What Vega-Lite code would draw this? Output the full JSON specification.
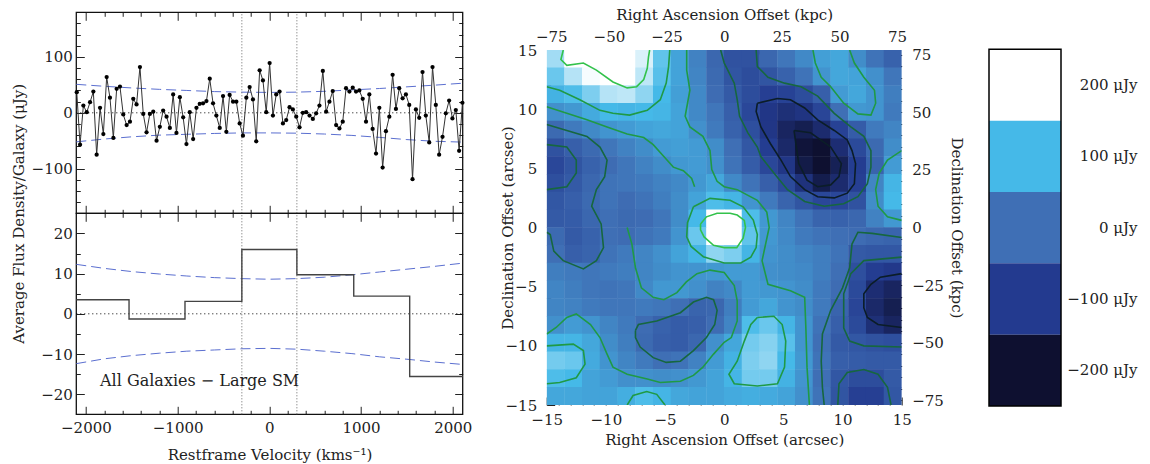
{
"$schema": "https://vega.github.io/schema/vega-lite/v6.json",
"background": "white",
"autosize": {"type": "none"},
"padding": {"left": 546.7, "top": 50, "right": 248.3, "bottom": 59},
"width": 355, "height": 355,
"config": {"font": "DejaVu Serif", "view": {"stroke": null},
  "axis": {"labelFont": "DejaVu Serif", "labelFontSize": 15, "labelColor": "#222", "labelFlush": false, "labelOverlap": false, "titleFont": "DejaVu Serif", "titleFontSize": 15, "titleFontWeight": "normal", "titleColor": "#222", "tickColor": "#222", "domain": false, "grid": false, "tickWidth": 1}},
"datasets": {
 "spec": [{"v":-2100,"f":37},{"v":-2064,"f":-57},{"v":-2028,"f":13},{"v":-1991,"f":1},{"v":-1955,"f":19},{"v":-1919,"f":38},{"v":-1883,"f":-75},{"v":-1846,"f":9},{"v":-1810,"f":-38},{"v":-1774,"f":64},{"v":-1738,"f":27},{"v":-1701,"f":-45},{"v":-1665,"f":43},{"v":-1629,"f":47},{"v":-1593,"f":-3},{"v":-1556,"f":-22},{"v":-1520,"f":-16},{"v":-1484,"f":25},{"v":-1448,"f":15},{"v":-1411,"f":82},{"v":-1375,"f":-2},{"v":-1339,"f":-35},{"v":-1303,"f":-2},{"v":-1266,"f":2},{"v":-1230,"f":-50},{"v":-1194,"f":-25},{"v":-1158,"f":4},{"v":-1121,"f":-7},{"v":-1085,"f":-27},{"v":-1049,"f":33},{"v":-1013,"f":-36},{"v":-976,"f":28},{"v":-940,"f":-8},{"v":-904,"f":-56},{"v":-868,"f":1},{"v":-831,"f":-47},{"v":-795,"f":9},{"v":-759,"f":16},{"v":-723,"f":17},{"v":-686,"f":21},{"v":-650,"f":61},{"v":-614,"f":17},{"v":-578,"f":-5},{"v":-541,"f":-27},{"v":-505,"f":30},{"v":-469,"f":-34},{"v":-433,"f":32},{"v":-396,"f":20},{"v":-360,"f":20},{"v":-324,"f":-19},{"v":-288,"f":-41},{"v":-251,"f":27},{"v":-215,"f":46},{"v":-179,"f":24},{"v":-143,"f":-51},{"v":-106,"f":76},{"v":-70,"f":58},{"v":-34,"f":1},{"v":3,"f":89},{"v":39,"f":-5},{"v":75,"f":33},{"v":111,"f":38},{"v":148,"f":-19},{"v":184,"f":-13},{"v":220,"f":10},{"v":256,"f":6},{"v":293,"f":-7},{"v":329,"f":-26},{"v":365,"f":0},{"v":401,"f":1},{"v":438,"f":-5},{"v":474,"f":-11},{"v":510,"f":-1},{"v":546,"f":13},{"v":583,"f":75},{"v":619,"f":2},{"v":655,"f":20},{"v":691,"f":39},{"v":728,"f":-22},{"v":764,"f":-28},{"v":800,"f":-16},{"v":836,"f":44},{"v":873,"f":38},{"v":909,"f":45},{"v":945,"f":38},{"v":981,"f":40},{"v":1018,"f":25},{"v":1054,"f":-16},{"v":1090,"f":33},{"v":1126,"f":-29},{"v":1163,"f":-73},{"v":1199,"f":9},{"v":1235,"f":-98},{"v":1271,"f":-33},{"v":1308,"f":-7},{"v":1344,"f":68},{"v":1380,"f":7},{"v":1416,"f":44},{"v":1453,"f":26},{"v":1489,"f":33},{"v":1525,"f":14},{"v":1561,"f":-119},{"v":1598,"f":6},{"v":1634,"f":-9},{"v":1670,"f":73},{"v":1706,"f":-5},{"v":1743,"f":-53},{"v":1779,"f":82},{"v":1815,"f":14},{"v":1851,"f":-75},{"v":1888,"f":-43},{"v":1924,"f":-1},{"v":1960,"f":22},{"v":1996,"f":-10},{"v":2033,"f":5},{"v":2069,"f":-68},{"v":2105,"f":18}],
 "tc": [{"s":"u","v":-2105,"f":51},{"s":"u","v":-1800,"f":47.5},{"s":"u","v":-1500,"f":44.5},{"s":"u","v":-1200,"f":42},{"s":"u","v":-900,"f":40},{"s":"u","v":-600,"f":38},{"s":"u","v":-300,"f":37},{"s":"u","v":0,"f":36.5},{"s":"u","v":300,"f":37},{"s":"u","v":600,"f":38.5},{"s":"u","v":900,"f":41},{"s":"u","v":1200,"f":43.5},{"s":"u","v":1500,"f":46.5},{"s":"u","v":1800,"f":49.5},{"s":"u","v":2108,"f":53},
        {"s":"l","v":-2105,"f":-52},{"s":"l","v":-1800,"f":-47},{"s":"l","v":-1500,"f":-43},{"s":"l","v":-1200,"f":-40},{"s":"l","v":-900,"f":-38.5},{"s":"l","v":-600,"f":-37},{"s":"l","v":-300,"f":-36},{"s":"l","v":0,"f":-36},{"s":"l","v":300,"f":-36.5},{"s":"l","v":600,"f":-38},{"s":"l","v":900,"f":-40.5},{"s":"l","v":1200,"f":-44},{"s":"l","v":1500,"f":-48},{"s":"l","v":1800,"f":-51},{"s":"l","v":2108,"f":-52.5}],
 "bc": [{"s":"u","v":-2105,"f":12.3},{"s":"u","v":-1800,"f":11.3},{"s":"u","v":-1500,"f":10.5},{"s":"u","v":-1200,"f":9.9},{"s":"u","v":-900,"f":9.4},{"s":"u","v":-600,"f":9.0},{"s":"u","v":-300,"f":8.75},{"s":"u","v":0,"f":8.6},{"s":"u","v":300,"f":8.75},{"s":"u","v":600,"f":9.1},{"s":"u","v":900,"f":9.7},{"s":"u","v":1200,"f":10.4},{"s":"u","v":1500,"f":11.1},{"s":"u","v":1800,"f":11.8},{"s":"u","v":2108,"f":12.6},
        {"s":"l","v":-2105,"f":-12.4},{"s":"l","v":-1800,"f":-11.2},{"s":"l","v":-1500,"f":-10.4},{"s":"l","v":-1200,"f":-9.8},{"s":"l","v":-900,"f":-9.3},{"s":"l","v":-600,"f":-9.0},{"s":"l","v":-300,"f":-8.7},{"s":"l","v":0,"f":-8.6},{"s":"l","v":300,"f":-8.8},{"s":"l","v":600,"f":-9.3},{"s":"l","v":900,"f":-9.9},{"s":"l","v":1200,"f":-10.7},{"s":"l","v":1500,"f":-11.3},{"s":"l","v":1800,"f":-12.0},{"s":"l","v":2108,"f":-12.6}],
 "hist": [{"v":-2105,"f":3.5},{"v":-1530,"f":-1.3},{"v":-920,"f":3.1},{"v":-300,"f":16},{"v":300,"f":9.7},{"v":920,"f":4.4},{"v":1530,"f":-15.6},{"v":2108,"f":-15.6}],
 "cbar": [{"lev": 200, "lab": "200 μJy"}, {"lev": 100, "lab": "100 μJy"}, {"lev": 0, "lab": "0 μJy"}, {"lev": -100, "lab": "−100 μJy"}, {"lev": -200, "lab": "−200 μJy"}],
 "grid": [
{"x":-14.25,"y":14.25,"v":150},{"x":-12.75,"y":14.25,"v":200},{"x":-11.25,"y":14.25,"v":235},{"x":-9.75,"y":14.25,"v":250},{"x":-8.25,"y":14.25,"v":245},{"x":-6.75,"y":14.25,"v":180},{"x":-5.25,"y":14.25,"v":115},{"x":-3.75,"y":14.25,"v":70},{"x":-2.25,"y":14.25,"v":25},{"x":-0.75,"y":14.25,"v":-15},{"x":0.75,"y":14.25,"v":-55},{"x":2.25,"y":14.25,"v":-55},{"x":3.75,"y":14.25,"v":-15},{"x":5.25,"y":14.25,"v":10},{"x":6.75,"y":14.25,"v":35},{"x":8.25,"y":14.25,"v":65},{"x":9.75,"y":14.25,"v":75},{"x":11.25,"y":14.25,"v":40},{"x":12.75,"y":14.25,"v":5},{"x":14.25,"y":14.25,"v":-25},
{"x":-14.25,"y":12.75,"v":120},{"x":-12.75,"y":12.75,"v":160},{"x":-11.25,"y":12.75,"v":195},{"x":-9.75,"y":12.75,"v":215},{"x":-8.25,"y":12.75,"v":205},{"x":-6.75,"y":12.75,"v":165},{"x":-5.25,"y":12.75,"v":110},{"x":-3.75,"y":12.75,"v":70},{"x":-2.25,"y":12.75,"v":30},{"x":-0.75,"y":12.75,"v":-10},{"x":0.75,"y":12.75,"v":-50},{"x":2.25,"y":12.75,"v":-65},{"x":3.75,"y":12.75,"v":-50},{"x":5.25,"y":12.75,"v":-25},{"x":6.75,"y":12.75,"v":5},{"x":8.25,"y":12.75,"v":50},{"x":9.75,"y":12.75,"v":75},{"x":11.25,"y":12.75,"v":70},{"x":12.75,"y":12.75,"v":45},{"x":14.25,"y":12.75,"v":10},
{"x":-14.25,"y":11.25,"v":90},{"x":-12.75,"y":11.25,"v":105},{"x":-11.25,"y":11.25,"v":130},{"x":-9.75,"y":11.25,"v":160},{"x":-8.25,"y":11.25,"v":165},{"x":-6.75,"y":11.25,"v":140},{"x":-5.25,"y":11.25,"v":100},{"x":-3.75,"y":11.25,"v":65},{"x":-2.25,"y":11.25,"v":35},{"x":-0.75,"y":11.25,"v":-5},{"x":0.75,"y":11.25,"v":-40},{"x":2.25,"y":11.25,"v":-65},{"x":3.75,"y":11.25,"v":-90},{"x":5.25,"y":11.25,"v":-85},{"x":6.75,"y":11.25,"v":-65},{"x":8.25,"y":11.25,"v":-30},{"x":9.75,"y":11.25,"v":60},{"x":11.25,"y":11.25,"v":75},{"x":12.75,"y":11.25,"v":50},{"x":14.25,"y":11.25,"v":20},
{"x":-14.25,"y":9.75,"v":45},{"x":-12.75,"y":9.75,"v":55},{"x":-11.25,"y":9.75,"v":80},{"x":-9.75,"y":9.75,"v":100},{"x":-8.25,"y":9.75,"v":95},{"x":-6.75,"y":9.75,"v":100},{"x":-5.25,"y":9.75,"v":95},{"x":-3.75,"y":9.75,"v":70},{"x":-2.25,"y":9.75,"v":35},{"x":-0.75,"y":9.75,"v":10},{"x":0.75,"y":9.75,"v":-30},{"x":2.25,"y":9.75,"v":-75},{"x":3.75,"y":9.75,"v":-110},{"x":5.25,"y":9.75,"v":-125},{"x":6.75,"y":9.75,"v":-115},{"x":8.25,"y":9.75,"v":-80},{"x":9.75,"y":9.75,"v":0},{"x":11.25,"y":9.75,"v":55},{"x":12.75,"y":9.75,"v":50},{"x":14.25,"y":9.75,"v":15},
{"x":-14.25,"y":8.25,"v":-10},{"x":-12.75,"y":8.25,"v":15},{"x":-11.25,"y":8.25,"v":35},{"x":-9.75,"y":8.25,"v":50},{"x":-8.25,"y":8.25,"v":60},{"x":-6.75,"y":8.25,"v":70},{"x":-5.25,"y":8.25,"v":75},{"x":-3.75,"y":8.25,"v":70},{"x":-2.25,"y":8.25,"v":45},{"x":-0.75,"y":8.25,"v":15},{"x":0.75,"y":8.25,"v":-25},{"x":2.25,"y":8.25,"v":-60},{"x":3.75,"y":8.25,"v":-110},{"x":5.25,"y":8.25,"v":-150},{"x":6.75,"y":8.25,"v":-165},{"x":8.25,"y":8.25,"v":-135},{"x":9.75,"y":8.25,"v":-85},{"x":11.25,"y":8.25,"v":-35},{"x":12.75,"y":8.25,"v":15},{"x":14.25,"y":8.25,"v":30},
{"x":-14.25,"y":6.75,"v":-55},{"x":-12.75,"y":6.75,"v":-30},{"x":-11.25,"y":6.75,"v":-10},{"x":-9.75,"y":6.75,"v":10},{"x":-8.25,"y":6.75,"v":25},{"x":-6.75,"y":6.75,"v":40},{"x":-5.25,"y":6.75,"v":60},{"x":-3.75,"y":6.75,"v":65},{"x":-2.25,"y":6.75,"v":60},{"x":-0.75,"y":6.75,"v":40},{"x":0.75,"y":6.75,"v":0},{"x":2.25,"y":6.75,"v":-45},{"x":3.75,"y":6.75,"v":-95},{"x":5.25,"y":6.75,"v":-140},{"x":6.75,"y":6.75,"v":-190},{"x":8.25,"y":6.75,"v":-210},{"x":9.75,"y":6.75,"v":-130},{"x":11.25,"y":6.75,"v":-70},{"x":12.75,"y":6.75,"v":-10},{"x":14.25,"y":6.75,"v":40},
{"x":-14.25,"y":5.25,"v":-75},{"x":-12.75,"y":5.25,"v":-50},{"x":-11.25,"y":5.25,"v":-25},{"x":-9.75,"y":5.25,"v":-5},{"x":-8.25,"y":5.25,"v":10},{"x":-6.75,"y":5.25,"v":25},{"x":-5.25,"y":5.25,"v":40},{"x":-3.75,"y":5.25,"v":55},{"x":-2.25,"y":5.25,"v":60},{"x":-0.75,"y":5.25,"v":45},{"x":0.75,"y":5.25,"v":5},{"x":2.25,"y":5.25,"v":-35},{"x":3.75,"y":5.25,"v":-75},{"x":5.25,"y":5.25,"v":-110},{"x":6.75,"y":5.25,"v":-175},{"x":8.25,"y":5.25,"v":-225},{"x":9.75,"y":5.25,"v":-160},{"x":11.25,"y":5.25,"v":-95},{"x":12.75,"y":5.25,"v":-20},{"x":14.25,"y":5.25,"v":60},
{"x":-14.25,"y":3.75,"v":-60},{"x":-12.75,"y":3.75,"v":-40},{"x":-11.25,"y":3.75,"v":-15},{"x":-9.75,"y":3.75,"v":5},{"x":-8.25,"y":3.75,"v":10},{"x":-6.75,"y":3.75,"v":15},{"x":-5.25,"y":3.75,"v":25},{"x":-3.75,"y":3.75,"v":35},{"x":-2.25,"y":3.75,"v":55},{"x":-0.75,"y":3.75,"v":75},{"x":0.75,"y":3.75,"v":35},{"x":2.25,"y":3.75,"v":5},{"x":3.75,"y":3.75,"v":-30},{"x":5.25,"y":3.75,"v":-70},{"x":6.75,"y":3.75,"v":-120},{"x":8.25,"y":3.75,"v":-170},{"x":9.75,"y":3.75,"v":-135},{"x":11.25,"y":3.75,"v":-90},{"x":12.75,"y":3.75,"v":30},{"x":14.25,"y":3.75,"v":95},
{"x":-14.25,"y":2.25,"v":-45},{"x":-12.75,"y":2.25,"v":-30},{"x":-11.25,"y":2.25,"v":-10},{"x":-9.75,"y":2.25,"v":5},{"x":-8.25,"y":2.25,"v":-5},{"x":-6.75,"y":2.25,"v":5},{"x":-5.25,"y":2.25,"v":20},{"x":-3.75,"y":2.25,"v":40},{"x":-2.25,"y":2.25,"v":70},{"x":-0.75,"y":2.25,"v":105},{"x":0.75,"y":2.25,"v":95},{"x":2.25,"y":2.25,"v":50},{"x":3.75,"y":2.25,"v":15},{"x":5.25,"y":2.25,"v":-20},{"x":6.75,"y":2.25,"v":-50},{"x":8.25,"y":2.25,"v":-75},{"x":9.75,"y":2.25,"v":-75},{"x":11.25,"y":2.25,"v":-55},{"x":12.75,"y":2.25,"v":40},{"x":14.25,"y":2.25,"v":100},
{"x":-14.25,"y":0.75,"v":-40},{"x":-12.75,"y":0.75,"v":-35},{"x":-11.25,"y":0.75,"v":-15},{"x":-9.75,"y":0.75,"v":0},{"x":-8.25,"y":0.75,"v":-10},{"x":-6.75,"y":0.75,"v":-5},{"x":-5.25,"y":0.75,"v":10},{"x":-3.75,"y":0.75,"v":40},{"x":-2.25,"y":0.75,"v":100},{"x":-0.75,"y":0.75,"v":240},{"x":0.75,"y":0.75,"v":200},{"x":2.25,"y":0.75,"v":105},{"x":3.75,"y":0.75,"v":55},{"x":5.25,"y":0.75,"v":30},{"x":6.75,"y":0.75,"v":5},{"x":8.25,"y":0.75,"v":-20},{"x":9.75,"y":0.75,"v":-25},{"x":11.25,"y":0.75,"v":-15},{"x":12.75,"y":0.75,"v":25},{"x":14.25,"y":0.75,"v":55},
{"x":-14.25,"y":-0.75,"v":-10},{"x":-12.75,"y":-0.75,"v":-40},{"x":-11.25,"y":-0.75,"v":-25},{"x":-9.75,"y":-0.75,"v":0},{"x":-8.25,"y":-0.75,"v":-5},{"x":-6.75,"y":-0.75,"v":5},{"x":-5.25,"y":-0.75,"v":15},{"x":-3.75,"y":-0.75,"v":50},{"x":-2.25,"y":-0.75,"v":120},{"x":-0.75,"y":-0.75,"v":255},{"x":0.75,"y":-0.75,"v":210},{"x":2.25,"y":-0.75,"v":115},{"x":3.75,"y":-0.75,"v":55},{"x":5.25,"y":-0.75,"v":35},{"x":6.75,"y":-0.75,"v":15},{"x":8.25,"y":-0.75,"v":5},{"x":9.75,"y":-0.75,"v":0},{"x":11.25,"y":-0.75,"v":-5},{"x":12.75,"y":-0.75,"v":-15},{"x":14.25,"y":-0.75,"v":-20},
{"x":-14.25,"y":-2.25,"v":0},{"x":-12.75,"y":-2.25,"v":-30},{"x":-11.25,"y":-2.25,"v":-20},{"x":-9.75,"y":-2.25,"v":5},{"x":-8.25,"y":-2.25,"v":15},{"x":-6.75,"y":-2.25,"v":30},{"x":-5.25,"y":-2.25,"v":45},{"x":-3.75,"y":-2.25,"v":70},{"x":-2.25,"y":-2.25,"v":95},{"x":-0.75,"y":-2.25,"v":140},{"x":0.75,"y":-2.25,"v":130},{"x":2.25,"y":-2.25,"v":95},{"x":3.75,"y":-2.25,"v":50},{"x":5.25,"y":-2.25,"v":40},{"x":6.75,"y":-2.25,"v":30},{"x":8.25,"y":-2.25,"v":20},{"x":9.75,"y":-2.25,"v":5},{"x":11.25,"y":-2.25,"v":-40},{"x":12.75,"y":-2.25,"v":-45},{"x":14.25,"y":-2.25,"v":-45},
{"x":-14.25,"y":-3.75,"v":20},{"x":-12.75,"y":-3.75,"v":15},{"x":-11.25,"y":-3.75,"v":10},{"x":-9.75,"y":-3.75,"v":15},{"x":-8.25,"y":-3.75,"v":20},{"x":-6.75,"y":-3.75,"v":30},{"x":-5.25,"y":-3.75,"v":40},{"x":-3.75,"y":-3.75,"v":50},{"x":-2.25,"y":-3.75,"v":50},{"x":-0.75,"y":-3.75,"v":55},{"x":0.75,"y":-3.75,"v":60},{"x":2.25,"y":-3.75,"v":60},{"x":3.75,"y":-3.75,"v":45},{"x":5.25,"y":-3.75,"v":40},{"x":6.75,"y":-3.75,"v":35},{"x":8.25,"y":-3.75,"v":20},{"x":9.75,"y":-3.75,"v":0},{"x":11.25,"y":-3.75,"v":-60},{"x":12.75,"y":-3.75,"v":-95},{"x":14.25,"y":-3.75,"v":-105},
{"x":-14.25,"y":-5.25,"v":30},{"x":-12.75,"y":-5.25,"v":20},{"x":-11.25,"y":-5.25,"v":10},{"x":-9.75,"y":-5.25,"v":5},{"x":-8.25,"y":-5.25,"v":10},{"x":-6.75,"y":-5.25,"v":35},{"x":-5.25,"y":-5.25,"v":55},{"x":-3.75,"y":-5.25,"v":55},{"x":-2.25,"y":-5.25,"v":45},{"x":-0.75,"y":-5.25,"v":25},{"x":0.75,"y":-5.25,"v":35},{"x":2.25,"y":-5.25,"v":60},{"x":3.75,"y":-5.25,"v":55},{"x":5.25,"y":-5.25,"v":50},{"x":6.75,"y":-5.25,"v":40},{"x":8.25,"y":-5.25,"v":15},{"x":9.75,"y":-5.25,"v":-5},{"x":11.25,"y":-5.25,"v":-70},{"x":12.75,"y":-5.25,"v":-130},{"x":14.25,"y":-5.25,"v":-150},
{"x":-14.25,"y":-6.75,"v":30},{"x":-12.75,"y":-6.75,"v":25},{"x":-11.25,"y":-6.75,"v":15},{"x":-9.75,"y":-6.75,"v":10},{"x":-8.25,"y":-6.75,"v":10},{"x":-6.75,"y":-6.75,"v":15},{"x":-5.25,"y":-6.75,"v":10},{"x":-3.75,"y":-6.75,"v":0},{"x":-2.25,"y":-6.75,"v":-20},{"x":-0.75,"y":-6.75,"v":-15},{"x":0.75,"y":-6.75,"v":20},{"x":2.25,"y":-6.75,"v":60},{"x":3.75,"y":-6.75,"v":75},{"x":5.25,"y":-6.75,"v":50},{"x":6.75,"y":-6.75,"v":40},{"x":8.25,"y":-6.75,"v":15},{"x":9.75,"y":-6.75,"v":-20},{"x":11.25,"y":-6.75,"v":-80},{"x":12.75,"y":-6.75,"v":-140},{"x":14.25,"y":-6.75,"v":-165},
{"x":-14.25,"y":-8.25,"v":45},{"x":-12.75,"y":-8.25,"v":60},{"x":-11.25,"y":-8.25,"v":50},{"x":-9.75,"y":-8.25,"v":30},{"x":-8.25,"y":-8.25,"v":15},{"x":-6.75,"y":-8.25,"v":-5},{"x":-5.25,"y":-8.25,"v":-25},{"x":-3.75,"y":-8.25,"v":-35},{"x":-2.25,"y":-8.25,"v":-30},{"x":-0.75,"y":-8.25,"v":-5},{"x":0.75,"y":-8.25,"v":30},{"x":2.25,"y":-8.25,"v":105},{"x":3.75,"y":-8.25,"v":120},{"x":5.25,"y":-8.25,"v":95},{"x":6.75,"y":-8.25,"v":50},{"x":8.25,"y":-8.25,"v":5},{"x":9.75,"y":-8.25,"v":-30},{"x":11.25,"y":-8.25,"v":-70},{"x":12.75,"y":-8.25,"v":-125},{"x":14.25,"y":-8.25,"v":-150},
{"x":-14.25,"y":-9.75,"v":95},{"x":-12.75,"y":-9.75,"v":95},{"x":-11.25,"y":-9.75,"v":75},{"x":-9.75,"y":-9.75,"v":40},{"x":-8.25,"y":-9.75,"v":20},{"x":-6.75,"y":-9.75,"v":-10},{"x":-5.25,"y":-9.75,"v":-30},{"x":-3.75,"y":-9.75,"v":-35},{"x":-2.25,"y":-9.75,"v":-15},{"x":-0.75,"y":-9.75,"v":45},{"x":0.75,"y":-9.75,"v":75},{"x":2.25,"y":-9.75,"v":125},{"x":3.75,"y":-9.75,"v":135},{"x":5.25,"y":-9.75,"v":110},{"x":6.75,"y":-9.75,"v":50},{"x":8.25,"y":-9.75,"v":0},{"x":9.75,"y":-9.75,"v":-40},{"x":11.25,"y":-9.75,"v":-45},{"x":12.75,"y":-9.75,"v":-55},{"x":14.25,"y":-9.75,"v":-60},
{"x":-14.25,"y":-11.25,"v":125},{"x":-12.75,"y":-11.25,"v":120},{"x":-11.25,"y":-11.25,"v":80},{"x":-9.75,"y":-11.25,"v":50},{"x":-8.25,"y":-11.25,"v":30},{"x":-6.75,"y":-11.25,"v":15},{"x":-5.25,"y":-11.25,"v":0},{"x":-3.75,"y":-11.25,"v":5},{"x":-2.25,"y":-11.25,"v":25},{"x":-0.75,"y":-11.25,"v":60},{"x":0.75,"y":-11.25,"v":90},{"x":2.25,"y":-11.25,"v":130},{"x":3.75,"y":-11.25,"v":140},{"x":5.25,"y":-11.25,"v":100},{"x":6.75,"y":-11.25,"v":55},{"x":8.25,"y":-11.25,"v":5},{"x":9.75,"y":-11.25,"v":-30},{"x":11.25,"y":-11.25,"v":-35},{"x":12.75,"y":-11.25,"v":-40},{"x":14.25,"y":-11.25,"v":-40},
{"x":-14.25,"y":-12.75,"v":105},{"x":-12.75,"y":-12.75,"v":100},{"x":-11.25,"y":-12.75,"v":70},{"x":-9.75,"y":-12.75,"v":60},{"x":-8.25,"y":-12.75,"v":45},{"x":-6.75,"y":-12.75,"v":45},{"x":-5.25,"y":-12.75,"v":40},{"x":-3.75,"y":-12.75,"v":45},{"x":-2.25,"y":-12.75,"v":55},{"x":-0.75,"y":-12.75,"v":70},{"x":0.75,"y":-12.75,"v":95},{"x":2.25,"y":-12.75,"v":125},{"x":3.75,"y":-12.75,"v":125},{"x":5.25,"y":-12.75,"v":90},{"x":6.75,"y":-12.75,"v":50},{"x":8.25,"y":-12.75,"v":0},{"x":9.75,"y":-12.75,"v":-45},{"x":11.25,"y":-12.75,"v":-65},{"x":12.75,"y":-12.75,"v":-65},{"x":14.25,"y":-12.75,"v":-40},
{"x":-14.25,"y":-14.25,"v":75},{"x":-12.75,"y":-14.25,"v":75},{"x":-11.25,"y":-14.25,"v":70},{"x":-9.75,"y":-14.25,"v":70},{"x":-8.25,"y":-14.25,"v":85},{"x":-6.75,"y":-14.25,"v":105},{"x":-5.25,"y":-14.25,"v":95},{"x":-3.75,"y":-14.25,"v":75},{"x":-2.25,"y":-14.25,"v":70},{"x":-0.75,"y":-14.25,"v":70},{"x":0.75,"y":-14.25,"v":80},{"x":2.25,"y":-14.25,"v":85},{"x":3.75,"y":-14.25,"v":80},{"x":5.25,"y":-14.25,"v":70},{"x":6.75,"y":-14.25,"v":45},{"x":8.25,"y":-14.25,"v":5},{"x":9.75,"y":-14.25,"v":-50},{"x":11.25,"y":-14.25,"v":-90},{"x":12.75,"y":-14.25,"v":-90},{"x":14.25,"y":-14.25,"v":-45}
 ],
 "cont": [
{"c":"tla","k":"light","i":0,"x":-13.6,"y":15},{"c":"tla","k":"light","i":1,"x":-13.8,"y":14.2},{"c":"tla","k":"light","i":2,"x":-13.3,"y":13.7},{"c":"tla","k":"light","i":3,"x":-11.9,"y":13.9},{"c":"tla","k":"light","i":4,"x":-10.8,"y":13.3},{"c":"tla","k":"light","i":5,"x":-9.4,"y":12.3},{"c":"tla","k":"light","i":6,"x":-8.2,"y":11.8},{"c":"tla","k":"light","i":7,"x":-7.4,"y":11.9},{"c":"tla","k":"light","i":8,"x":-6.8,"y":12.5},{"c":"tla","k":"light","i":9,"x":-6.5,"y":13.45},{"c":"tla","k":"light","i":10,"x":-6.4,"y":14.4},{"c":"tla","k":"light","i":11,"x":-6.3,"y":15},
{"c":"tlb","k":"green","i":0,"x":-15,"y":11.9},{"c":"tlb","k":"green","i":1,"x":-13.9,"y":11.6},{"c":"tlb","k":"green","i":2,"x":-12.2,"y":10.8},{"c":"tlb","k":"green","i":3,"x":-10.5,"y":9.9},{"c":"tlb","k":"green","i":4,"x":-9.4,"y":9.65},{"c":"tlb","k":"green","i":5,"x":-8.0,"y":9.5},{"c":"tlb","k":"green","i":6,"x":-6.5,"y":9.9},{"c":"tlb","k":"green","i":7,"x":-5.4,"y":10.8},{"c":"tlb","k":"green","i":8,"x":-4.9,"y":12.2},{"c":"tlb","k":"green","i":9,"x":-4.7,"y":13.6},{"c":"tlb","k":"green","i":10,"x":-4.6,"y":15},
{"c":"tlc","k":"green","i":0,"x":-15,"y":10.2},{"c":"tlc","k":"green","i":1,"x":-13.3,"y":9.65},{"c":"tlc","k":"green","i":2,"x":-11.6,"y":9.1},{"c":"tlc","k":"green","i":3,"x":-9.9,"y":8.5},{"c":"tlc","k":"green","i":4,"x":-8.2,"y":7.9},{"c":"tlc","k":"green","i":5,"x":-6.8,"y":7.6},{"c":"tlc","k":"green","i":6,"x":-6.0,"y":7.0},{"c":"tlc","k":"green","i":7,"x":-5.1,"y":6.0},{"c":"tlc","k":"green","i":8,"x":-4.3,"y":5.1},{"c":"tlc","k":"green","i":9,"x":-3.45,"y":4.8},{"c":"tlc","k":"green","i":10,"x":-2.75,"y":4.15},{"c":"tlc","k":"green","i":11,"x":-2.5,"y":3.45},
{"c":"ringi","k":"light","i":0,"x":-2.0,"y":0.3},{"c":"ringi","k":"light","i":1,"x":-1.5,"y":0.9},{"c":"ringi","k":"light","i":2,"x":-0.6,"y":1.2},{"c":"ringi","k":"light","i":3,"x":0.5,"y":1.2},{"c":"ringi","k":"light","i":4,"x":1.1,"y":1.05},{"c":"ringi","k":"light","i":5,"x":1.7,"y":0.6},{"c":"ringi","k":"light","i":6,"x":1.8,"y":0.0},{"c":"ringi","k":"light","i":7,"x":1.6,"y":-0.9},{"c":"ringi","k":"light","i":8,"x":1.06,"y":-1.7},{"c":"ringi","k":"light","i":9,"x":0,"y":-1.7},{"c":"ringi","k":"light","i":10,"x":-0.9,"y":-1.5},{"c":"ringi","k":"light","i":11,"x":-1.7,"y":-0.8},{"c":"ringi","k":"light","i":12,"x":-2.0,"y":-0.2},{"c":"ringi","k":"light","i":13,"x":-2.0,"y":0.3},
{"c":"ringo","k":"green","i":0,"x":-2.6,"y":1.75},{"c":"ringo","k":"green","i":1,"x":-1.2,"y":2.46},{"c":"ringo","k":"green","i":2,"x":0.5,"y":2.3},{"c":"ringo","k":"green","i":3,"x":1.6,"y":1.75},{"c":"ringo","k":"green","i":4,"x":2.46,"y":0.63},{"c":"ringo","k":"green","i":5,"x":2.8,"y":-0.6},{"c":"ringo","k":"green","i":6,"x":2.7,"y":-1.7},{"c":"ringo","k":"green","i":7,"x":2.25,"y":-2.5},{"c":"ringo","k":"green","i":8,"x":1.4,"y":-3.0},{"c":"ringo","k":"green","i":9,"x":0,"y":-3.0},{"c":"ringo","k":"green","i":10,"x":-1.76,"y":-2.47},{"c":"ringo","k":"green","i":11,"x":-2.8,"y":-1.6},{"c":"ringo","k":"green","i":12,"x":-3.17,"y":-0.78},{"c":"ringo","k":"green","i":13,"x":-3.1,"y":0.4},{"c":"ringo","k":"green","i":14,"x":-2.6,"y":1.75},
{"c":"blobi","k":"black","i":0,"x":5.9,"y":8.2},{"c":"blobi","k":"black","i":1,"x":7.3,"y":8.0},{"c":"blobi","k":"black","i":2,"x":9.0,"y":6.8},{"c":"blobi","k":"black","i":3,"x":9.9,"y":5.4},{"c":"blobi","k":"black","i":4,"x":9.7,"y":4.3},{"c":"blobi","k":"black","i":5,"x":9.0,"y":3.6},{"c":"blobi","k":"black","i":6,"x":7.9,"y":3.45},{"c":"blobi","k":"black","i":7,"x":7.0,"y":4.0},{"c":"blobi","k":"black","i":8,"x":6.3,"y":5.4},{"c":"blobi","k":"black","i":9,"x":6.1,"y":6.8},{"c":"blobi","k":"black","i":10,"x":5.9,"y":8.2},
{"c":"blobm","k":"black","i":0,"x":2.8,"y":10.5},{"c":"blobm","k":"black","i":1,"x":4.5,"y":10.9},{"c":"blobm","k":"black","i":2,"x":5.6,"y":10.8},{"c":"blobm","k":"black","i":3,"x":6.8,"y":10.1},{"c":"blobm","k":"black","i":4,"x":7.9,"y":9.1},{"c":"blobm","k":"black","i":5,"x":9.3,"y":8.2},{"c":"blobm","k":"black","i":6,"x":10.4,"y":7.4},{"c":"blobm","k":"black","i":7,"x":10.8,"y":6.5},{"c":"blobm","k":"black","i":8,"x":11.1,"y":5.4},{"c":"blobm","k":"black","i":9,"x":11.0,"y":3.7},{"c":"blobm","k":"black","i":10,"x":10.4,"y":2.9},{"c":"blobm","k":"black","i":11,"x":9.3,"y":2.5},{"c":"blobm","k":"black","i":12,"x":7.9,"y":2.6},{"c":"blobm","k":"black","i":13,"x":6.8,"y":3.2},{"c":"blobm","k":"black","i":14,"x":5.6,"y":4.3},{"c":"blobm","k":"black","i":15,"x":4.8,"y":5.7},{"c":"blobm","k":"black","i":16,"x":3.9,"y":7.1},{"c":"blobm","k":"black","i":17,"x":3.1,"y":8.5},{"c":"blobm","k":"black","i":18,"x":2.7,"y":9.8},{"c":"blobm","k":"black","i":19,"x":2.8,"y":10.5},
{"c":"bloo","k":"dark","i":0,"x":2.7,"y":15},{"c":"bloo","k":"dark","i":1,"x":2.8,"y":13.6},{"c":"bloo","k":"dark","i":2,"x":3.7,"y":12.7},{"c":"bloo","k":"dark","i":3,"x":5.1,"y":12.2},{"c":"bloo","k":"dark","i":4,"x":6.5,"y":11.9},{"c":"bloo","k":"dark","i":5,"x":7.9,"y":11.1},{"c":"bloo","k":"dark","i":6,"x":9.3,"y":9.65},{"c":"bloo","k":"dark","i":7,"x":10.7,"y":8.5},{"c":"bloo","k":"dark","i":8,"x":11.8,"y":7.7},{"c":"bloo","k":"dark","i":9,"x":12.4,"y":6.5},{"c":"bloo","k":"dark","i":10,"x":12.4,"y":5.1},{"c":"bloo","k":"dark","i":11,"x":12.1,"y":3.7},{"c":"bloo","k":"dark","i":12,"x":11.3,"y":2.6},{"c":"bloo","k":"dark","i":13,"x":10.1,"y":2.0},{"c":"bloo","k":"dark","i":14,"x":8.45,"y":1.8},{"c":"bloo","k":"dark","i":15,"x":6.8,"y":2.2},{"c":"bloo","k":"dark","i":16,"x":5.35,"y":3.2},{"c":"bloo","k":"dark","i":17,"x":4.2,"y":4.6},{"c":"bloo","k":"dark","i":18,"x":3.1,"y":6.0},{"c":"bloo","k":"dark","i":19,"x":2.8,"y":6.8},{"c":"bloo","k":"dark","i":20,"x":2.0,"y":8.0},{"c":"bloo","k":"dark","i":21,"x":1.3,"y":9.4},{"c":"bloo","k":"dark","i":22,"x":1.1,"y":10.8},{"c":"bloo","k":"dark","i":23,"x":0.85,"y":12.2},{"c":"bloo","k":"dark","i":24,"x":0.3,"y":13.3},{"c":"bloo","k":"dark","i":25,"x":0,"y":13.9},{"c":"bloo","k":"dark","i":26,"x":-0.3,"y":15},
{"c":"tr","k":"green","i":0,"x":7.5,"y":15},{"c":"tr","k":"green","i":1,"x":7.7,"y":13.9},{"c":"tr","k":"green","i":2,"x":8.2,"y":12.7},{"c":"tr","k":"green","i":3,"x":9.0,"y":11.9},{"c":"tr","k":"green","i":4,"x":10.1,"y":10.5},{"c":"tr","k":"green","i":5,"x":11.3,"y":9.6},{"c":"tr","k":"green","i":6,"x":12.4,"y":9.5},{"c":"tr","k":"green","i":7,"x":12.8,"y":10.5},{"c":"tr","k":"green","i":8,"x":12.7,"y":11.6},{"c":"tr","k":"green","i":9,"x":11.8,"y":12.7},{"c":"tr","k":"green","i":10,"x":11.0,"y":13.9},{"c":"tr","k":"green","i":11,"x":10.6,"y":15},
{"c":"r","k":"green","i":0,"x":15,"y":6.5},{"c":"r","k":"green","i":1,"x":13.8,"y":5.7},{"c":"r","k":"green","i":2,"x":13.1,"y":4.6},{"c":"r","k":"green","i":3,"x":12.8,"y":3.2},{"c":"r","k":"green","i":4,"x":13.0,"y":1.8},{"c":"r","k":"green","i":5,"x":13.8,"y":0.9},{"c":"r","k":"green","i":6,"x":15,"y":0.6},
{"c":"rdi","k":"black","i":0,"x":15,"y":-3.9},{"c":"rdi","k":"black","i":1,"x":13.2,"y":-4.2},{"c":"rdi","k":"black","i":2,"x":12.4,"y":-4.8},{"c":"rdi","k":"black","i":3,"x":11.8,"y":-5.6},{"c":"rdi","k":"black","i":4,"x":11.8,"y":-6.8},{"c":"rdi","k":"black","i":5,"x":12.1,"y":-7.6},{"c":"rdi","k":"black","i":6,"x":13.0,"y":-8.2},{"c":"rdi","k":"black","i":7,"x":15,"y":-8.45},
{"c":"rdo","k":"dark","i":0,"x":15,"y":-2.5},{"c":"rdo","k":"dark","i":1,"x":11.8,"y":-2.8},{"c":"rdo","k":"dark","i":2,"x":10.7,"y":-3.9},{"c":"rdo","k":"dark","i":3,"x":10.1,"y":-5.6},{"c":"rdo","k":"dark","i":4,"x":10.1,"y":-8.5},{"c":"rdo","k":"dark","i":5,"x":10.6,"y":-9.6},{"c":"rdo","k":"dark","i":6,"x":11.8,"y":-10},{"c":"rdo","k":"dark","i":7,"x":15,"y":-10.1},
{"c":"br","k":"dark","i":0,"x":9.6,"y":-15},{"c":"br","k":"dark","i":1,"x":9.7,"y":-13.2},{"c":"br","k":"dark","i":2,"x":10.4,"y":-12.25},{"c":"br","k":"dark","i":3,"x":11.8,"y":-12.0},{"c":"br","k":"dark","i":4,"x":13.0,"y":-12.4},{"c":"br","k":"dark","i":5,"x":13.8,"y":-13.5},{"c":"br","k":"dark","i":6,"x":14.1,"y":-15},
{"c":"vert","k":"dark","i":0,"x":15,"y":-0.85},{"c":"vert","k":"dark","i":1,"x":12.5,"y":-0.5},{"c":"vert","k":"dark","i":2,"x":11.3,"y":-0.4},{"c":"vert","k":"dark","i":3,"x":10.8,"y":-1.4},{"c":"vert","k":"dark","i":4,"x":10.6,"y":-3.4},{"c":"vert","k":"dark","i":5,"x":10.0,"y":-5.1},{"c":"vert","k":"dark","i":6,"x":9.0,"y":-7.0},{"c":"vert","k":"dark","i":7,"x":8.3,"y":-9.0},{"c":"vert","k":"dark","i":8,"x":8.2,"y":-11.3},{"c":"vert","k":"dark","i":9,"x":8.3,"y":-13.5},{"c":"vert","k":"dark","i":10,"x":8.45,"y":-15},
{"c":"mid","k":"green","i":0,"x":-3.17,"y":15},{"c":"mid","k":"green","i":1,"x":-3.17,"y":13.3},{"c":"mid","k":"green","i":2,"x":-2.9,"y":11.6},{"c":"mid","k":"green","i":3,"x":-3.3,"y":9.4},{"c":"mid","k":"green","i":4,"x":-2.9,"y":8.5},{"c":"mid","k":"green","i":5,"x":-1.8,"y":7.7},{"c":"mid","k":"green","i":6,"x":-1.2,"y":6.5},{"c":"mid","k":"green","i":7,"x":-1.05,"y":4.9},{"c":"mid","k":"green","i":8,"x":-0.6,"y":3.9},{"c":"mid","k":"green","i":9,"x":0,"y":3.45},{"c":"mid","k":"green","i":10,"x":1.1,"y":3.2},{"c":"mid","k":"green","i":11,"x":2.8,"y":2.3},{"c":"mid","k":"green","i":12,"x":3.6,"y":1.3},{"c":"mid","k":"green","i":13,"x":3.8,"y":0},{"c":"mid","k":"green","i":14,"x":3.2,"y":-2.8},{"c":"mid","k":"green","i":15,"x":3.7,"y":-4.8},{"c":"mid","k":"green","i":16,"x":5.6,"y":-5.35},{"c":"mid","k":"green","i":17,"x":6.8,"y":-5.9},{"c":"mid","k":"green","i":18,"x":6.9,"y":-8.45},{"c":"mid","k":"green","i":19,"x":7.0,"y":-11.8},{"c":"mid","k":"green","i":20,"x":7.2,"y":-15},
{"c":"brl","k":"green","i":0,"x":2.8,"y":-7.6},{"c":"brl","k":"green","i":1,"x":4.2,"y":-7.5},{"c":"brl","k":"green","i":2,"x":4.9,"y":-8.2},{"c":"brl","k":"green","i":3,"x":5.2,"y":-9.6},{"c":"brl","k":"green","i":4,"x":5.1,"y":-11.8},{"c":"brl","k":"green","i":5,"x":4.5,"y":-13.2},{"c":"brl","k":"green","i":6,"x":2.8,"y":-13.4},{"c":"brl","k":"green","i":7,"x":0.85,"y":-13.2},{"c":"brl","k":"green","i":8,"x":0.4,"y":-12.4},{"c":"brl","k":"green","i":9,"x":1.1,"y":-11.3},{"c":"brl","k":"green","i":10,"x":1.7,"y":-9.6},{"c":"brl","k":"green","i":11,"x":2.25,"y":-8.2},{"c":"brl","k":"green","i":12,"x":2.8,"y":-7.6},
{"c":"dl","k":"dark","i":0,"x":-7.5,"y":-8.7},{"c":"dl","k":"dark","i":1,"x":-7.25,"y":-8.2},{"c":"dl","k":"dark","i":2,"x":-5.7,"y":-7.9},{"c":"dl","k":"dark","i":3,"x":-3.7,"y":-7.2},{"c":"dl","k":"dark","i":4,"x":-2.6,"y":-6.3},{"c":"dl","k":"dark","i":5,"x":-1.5,"y":-5.9},{"c":"dl","k":"dark","i":6,"x":-0.9,"y":-6.1},{"c":"dl","k":"dark","i":7,"x":-0.6,"y":-7.0},{"c":"dl","k":"dark","i":8,"x":-0.8,"y":-8.2},{"c":"dl","k":"dark","i":9,"x":-1.5,"y":-9.3},{"c":"dl","k":"dark","i":10,"x":-2.6,"y":-10.4},{"c":"dl","k":"dark","i":11,"x":-3.7,"y":-11.3},{"c":"dl","k":"dark","i":12,"x":-4.9,"y":-11.4},{"c":"dl","k":"dark","i":13,"x":-6.0,"y":-11.0},{"c":"dl","k":"dark","i":14,"x":-7.1,"y":-10.1},{"c":"dl","k":"dark","i":15,"x":-7.5,"y":-9.3},{"c":"dl","k":"dark","i":16,"x":-7.5,"y":-8.7},
{"c":"bl","k":"green","i":0,"x":-15,"y":-10},{"c":"bl","k":"green","i":1,"x":-12.75,"y":-9.86},{"c":"bl","k":"green","i":2,"x":-11.9,"y":-10.4},{"c":"bl","k":"green","i":3,"x":-11.76,"y":-11.55},{"c":"bl","k":"green","i":4,"x":-12.5,"y":-12.7},{"c":"bl","k":"green","i":5,"x":-13.9,"y":-13.1},{"c":"bl","k":"green","i":6,"x":-15,"y":-13.2},
{"c":"bump","k":"green","i":0,"x":-8.2,"y":-15},{"c":"bump","k":"green","i":1,"x":-7.7,"y":-14.2},{"c":"bump","k":"green","i":2,"x":-6.55,"y":-13.86},{"c":"bump","k":"green","i":3,"x":-5.7,"y":-14.1},{"c":"bump","k":"green","i":4,"x":-5.0,"y":-15},
{"c":"low","k":"green","i":0,"x":-8.2,"y":0},{"c":"low","k":"green","i":1,"x":-7.8,"y":-1.4},{"c":"low","k":"green","i":2,"x":-7.5,"y":-3.4},{"c":"low","k":"green","i":3,"x":-7.0,"y":-5.1},{"c":"low","k":"green","i":4,"x":-6.0,"y":-5.9},{"c":"low","k":"green","i":5,"x":-5.1,"y":-6.1},{"c":"low","k":"green","i":6,"x":-4.0,"y":-5.5},{"c":"low","k":"green","i":7,"x":-3.2,"y":-4.6},{"c":"low","k":"green","i":8,"x":-2.3,"y":-3.9},{"c":"low","k":"green","i":9,"x":-1.2,"y":-3.6},{"c":"low","k":"green","i":10,"x":0,"y":-3.8},{"c":"low","k":"green","i":11,"x":0.85,"y":-4.9},{"c":"low","k":"green","i":12,"x":1.1,"y":-6.2},{"c":"low","k":"green","i":13,"x":1.1,"y":-7.9},{"c":"low","k":"green","i":14,"x":0.6,"y":-9.3},{"c":"low","k":"green","i":15,"x":0,"y":-9.7},{"c":"low","k":"green","i":16,"x":-0.9,"y":-10.7},{"c":"low","k":"green","i":17,"x":-1.8,"y":-11.8},{"c":"low","k":"green","i":18,"x":-2.6,"y":-12.5},{"c":"low","k":"green","i":19,"x":-3.7,"y":-13.0},{"c":"low","k":"green","i":20,"x":-5.4,"y":-13.1},{"c":"low","k":"green","i":21,"x":-6.5,"y":-12.8},{"c":"low","k":"green","i":22,"x":-8.2,"y":-12.4},{"c":"low","k":"green","i":23,"x":-9.4,"y":-11.8},{"c":"low","k":"green","i":24,"x":-9.9,"y":-10.7},{"c":"low","k":"green","i":25,"x":-10.5,"y":-9.3},{"c":"low","k":"green","i":26,"x":-11.3,"y":-8.2},{"c":"low","k":"green","i":27,"x":-12.5,"y":-7.3},{"c":"low","k":"green","i":28,"x":-13.3,"y":-7.6},{"c":"low","k":"green","i":29,"x":-14.2,"y":-8.45},{"c":"low","k":"green","i":30,"x":-15,"y":-9.0},
{"c":"l0","k":"dark","i":0,"x":-15,"y":8.7},{"c":"l0","k":"dark","i":1,"x":-13.3,"y":8.2},{"c":"l0","k":"dark","i":2,"x":-11.6,"y":7.7},{"c":"l0","k":"dark","i":3,"x":-10.5,"y":6.8},{"c":"l0","k":"dark","i":4,"x":-9.9,"y":5.7},{"c":"l0","k":"dark","i":5,"x":-10.1,"y":4.3},{"c":"l0","k":"dark","i":6,"x":-10.8,"y":3.2},{"c":"l0","k":"dark","i":7,"x":-11.2,"y":1.8},{"c":"l0","k":"dark","i":8,"x":-10.4,"y":0.3},{"c":"l0","k":"dark","i":9,"x":-10.2,"y":-1.7},{"c":"l0","k":"dark","i":10,"x":-10.8,"y":-2.8},{"c":"l0","k":"dark","i":11,"x":-11.9,"y":-3.5},{"c":"l0","k":"dark","i":12,"x":-13.6,"y":-2.8},{"c":"l0","k":"dark","i":13,"x":-14.4,"y":-2.0},{"c":"l0","k":"dark","i":14,"x":-14.7,"y":-0.6},{"c":"l0","k":"dark","i":15,"x":-15,"y":-0.4},
{"c":"ld","k":"dark","i":0,"x":-15,"y":7.0},{"c":"ld","k":"dark","i":1,"x":-13.3,"y":6.8},{"c":"ld","k":"dark","i":2,"x":-12.5,"y":5.7},{"c":"ld","k":"dark","i":3,"x":-12.5,"y":4.6},{"c":"ld","k":"dark","i":4,"x":-13.3,"y":3.45},{"c":"ld","k":"dark","i":5,"x":-15,"y":3.2}
 ]
},
"layer": [
 {"data": {"name": "grid"}, "mark": {"type": "square", "filled": true, "size": 330, "opacity": 1, "clip": true, "strokeWidth": 0},
  "encoding": {
   "x": {"field": "x", "type": "quantitative", "scale": {"domain": [-15, 15], "nice": false, "zero": false}, "axis": {"orient": "bottom", "values": [-15, -10, -5, 0, 5, 10, 15], "tickSize": -8, "labelPadding": 15, "format": "d", "title": "Right Ascension Offset (arcsec)", "titleY": 27, "titleBaseline": "top", "titleAlign": "center"}},
   "y": {"field": "y", "type": "quantitative", "scale": {"domain": [-15, 15], "nice": false, "zero": false}, "axis": {"orient": "left", "values": [-15, -10, -5, 0, 5, 10, 15], "tickSize": -8, "labelPadding": 18, "format": "d", "title": "Declination Offset (arcsec)", "titleX": -31, "titleY": 177.5, "titleAngle": -90, "titleBaseline": "bottom", "titleAlign": "center"}},
   "color": {"field": "v", "type": "quantitative", "scale": {"domain": [-200, -100, 0, 100, 200], "range": ["#0e1030", "#233a8f", "#3f6fb5", "#45b9e8", "#ffffff"], "interpolate": "rgb", "clamp": true}, "legend": null}}},
 {"data": {"name": "cont"}, "mark": {"type": "line", "strokeWidth": 1.6, "clip": true},
  "encoding": {
   "x": {"field": "x", "type": "quantitative", "scale": {"domain": [-15, 15], "nice": false, "zero": false}, "axis": {"orient": "bottom", "values": [-14,-13,-12,-11,-9,-8,-7,-6,-4,-3,-2,-1,1,2,3,4,6,7,8,9,11,12,13,14], "labels": false, "tickSize": -4, "title": null}},
   "y": {"field": "y", "type": "quantitative", "scale": {"domain": [-15, 15], "nice": false, "zero": false}, "axis": {"orient": "left", "values": [-14,-13,-12,-11,-9,-8,-7,-6,-4,-3,-2,-1,1,2,3,4,6,7,8,9,11,12,13,14], "labels": false, "tickSize": -4, "title": null}},
   "detail": {"field": "c"}, "order": {"field": "i"},
   "stroke": {"field": "k", "type": "nominal", "scale": {"domain": ["light", "green", "dark", "black"], "range": ["#33c24b", "#1f9a45", "#16673f", "#0b1d28"]}, "legend": null}}},
 {"data": {"values": [{"kx": -77, "ky": -77}, {"kx": 77, "ky": 77}]}, "mark": {"type": "point", "opacity": 0},
  "encoding": {
   "x": {"field": "kx", "type": "quantitative", "scale": {"domain": [-77, 77], "nice": false, "zero": false}, "axis": {"orient": "top", "values": [-75, -50, -25, 0, 25, 50, 75], "tickSize": -8, "labelPadding": 14, "format": "d", "title": "Right Ascension Offset (kpc)", "titleY": -28, "titleBaseline": "bottom", "titleAlign": "center"}},
   "y": {"field": "ky", "type": "quantitative", "scale": {"domain": [-77, 77], "nice": false, "zero": false}, "axis": {"orient": "right", "values": [-75, -50, -25, 0, 25, 50, 75], "tickSize": -8, "labelPadding": 18, "format": "d", "title": "Declination Offset (kpc)", "titleX": 47, "titleY": 177.5, "titleAngle": 90, "titleBaseline": "bottom", "titleAlign": "center"}}}},
 {"data": {"values": [{"kx": 0, "ky": 0}]}, "mark": {"type": "point", "opacity": 0},
  "encoding": {
   "x": {"field": "kx", "type": "quantitative", "scale": {"domain": [-77, 77], "nice": false, "zero": false}, "axis": {"orient": "top", "values": [-70,-65,-60,-55,-45,-40,-35,-30,-20,-15,-10,-5,5,10,15,20,30,35,40,45,55,60,65,70], "labels": false, "tickSize": -4, "title": null}},
   "y": {"field": "ky", "type": "quantitative", "scale": {"domain": [-77, 77], "nice": false, "zero": false}, "axis": {"orient": "right", "values": [-70,-65,-60,-55,-45,-40,-35,-30,-20,-15,-10,-5,5,10,15,20,30,35,40,45,55,60,65,70], "labels": false, "tickSize": -4, "title": null}}}},

 {"data": {"values": [{}]}, "mark": {"type": "rect", "fillOpacity": 0, "stroke": "#111", "strokeWidth": 1.3},
  "encoding": {
   "x": {"datum": -2105, "type": "quantitative", "scale": {"domain": [-2105, 2108], "range": [-470.4, -84], "nice": false, "zero": false}, "axis": null},
   "x2": {"datum": 2108},
   "y": {"datum": -180, "type": "quantitative", "scale": {"domain": [-180, 180], "range": [163.3, -37.7], "nice": false, "zero": false}, "axis": null},
   "y2": {"datum": 180}}},
 {"data": {"name": "tc"}, "mark": {"type": "line", "color": "#5b6fd0", "strokeDash": [10, 5], "strokeWidth": 1},
  "encoding": {
   "x": {"field": "v", "type": "quantitative", "scale": {"domain": [-2105, 2108], "range": [-470.4, -84], "nice": false, "zero": false}, "axis": {"orient": "bottom", "offset": -191.7, "values": [-2000, -1000, 0, 1000, 2000], "labels": false, "tickSize": -8, "title": null}},
   "y": {"field": "f", "type": "quantitative", "scale": {"domain": [-180, 180], "range": [163.3, -37.7], "nice": false, "zero": false}, "axis": {"orient": "left", "offset": 470.4, "values": [-100, 0, 100], "tickSize": -8, "labelPadding": 12, "format": "d", "title": "Average Flux Density/Galaxy (μJy)", "titleX": -50, "titleY": 163.3, "titleAngle": -90, "titleBaseline": "bottom", "titleAlign": "center"}},
   "detail": {"field": "s"}}},
 {"data": {"values": [{"f": 0}]}, "mark": {"type": "rule", "color": "#000", "strokeDash": [1, 3], "strokeWidth": 1},
  "encoding": {
   "x": {"datum": -2105, "type": "quantitative", "scale": {"domain": [-2105, 2108], "range": [-470.4, -84], "nice": false, "zero": false}, "axis": null},
   "x2": {"datum": 2108},
   "y": {"field": "f", "type": "quantitative", "scale": {"domain": [-180, 180], "range": [163.3, -37.7], "nice": false, "zero": false}, "axis": {"orient": "right", "offset": -439, "values": [-100, 0, 100], "labels": false, "tickSize": -8, "title": null}}}},
 {"data": {"values": [{"v": -300}, {"v": 300}]}, "mark": {"type": "rule", "color": "#666", "strokeDash": [1, 2], "strokeWidth": 1},
  "encoding": {
   "x": {"field": "v", "type": "quantitative", "scale": {"domain": [-2105, 2108], "range": [-470.4, -84], "nice": false, "zero": false}, "axis": {"orient": "top", "offset": 37.7, "values": [-2000, -1000, 0, 1000, 2000], "labels": false, "tickSize": -8, "title": null}},
   "y": {"datum": -180, "type": "quantitative", "scale": {"domain": [-180, 180], "range": [163.3, -37.7], "nice": false, "zero": false}, "axis": null},
   "y2": {"datum": 180}}},
 {"data": {"name": "spec"}, "mark": {"type": "line", "color": "#333", "strokeWidth": 1},
  "encoding": {
   "x": {"field": "v", "type": "quantitative", "scale": {"domain": [-2105, 2108], "range": [-470.4, -84], "nice": false, "zero": false}, "axis": {"orient": "bottom", "offset": -191.7, "values": [-1800,-1600,-1400,-1200,-800,-600,-400,-200,200,400,600,800,1200,1400,1600,1800], "labels": false, "tickSize": -4, "title": null}},
   "y": {"field": "f", "type": "quantitative", "scale": {"domain": [-180, 180], "range": [163.3, -37.7], "nice": false, "zero": false}, "axis": {"orient": "left", "offset": 470.4, "values": [-160,-140,-120,-80,-60,-40,-20,20,40,60,80,120,140,160], "labels": false, "tickSize": -4, "title": null}}}},
 {"data": {"name": "spec"}, "mark": {"type": "point", "filled": true, "color": "#000", "size": 18, "opacity": 1},
  "encoding": {
   "x": {"field": "v", "type": "quantitative", "scale": {"domain": [-2105, 2108], "range": [-470.4, -84], "nice": false, "zero": false}, "axis": {"orient": "top", "offset": 37.7, "values": [-1800,-1600,-1400,-1200,-800,-600,-400,-200,200,400,600,800,1200,1400,1600,1800], "labels": false, "tickSize": -4, "title": null}},
   "y": {"field": "f", "type": "quantitative", "scale": {"domain": [-180, 180], "range": [163.3, -37.7], "nice": false, "zero": false}, "axis": {"orient": "right", "offset": -439, "values": [-160,-140,-120,-80,-60,-40,-20,20,40,60,80,120,140,160], "labels": false, "tickSize": -4, "title": null}}}},

 {"data": {"values": [{}]}, "mark": {"type": "rect", "fillOpacity": 0, "stroke": "#111", "strokeWidth": 1.3},
  "encoding": {
   "x": {"datum": -2105, "type": "quantitative", "scale": {"domain": [-2105, 2108], "range": [-470.4, -84], "nice": false, "zero": false}, "axis": null},
   "x2": {"datum": 2108},
   "y": {"datum": -25, "type": "quantitative", "scale": {"domain": [-25, 25], "range": [364.3, 163.3], "nice": false, "zero": false}, "axis": null},
   "y2": {"datum": 25}}},
 {"data": {"name": "bc"}, "mark": {"type": "line", "color": "#5b6fd0", "strokeDash": [10, 5], "strokeWidth": 1},
  "encoding": {
   "x": {"field": "v", "type": "quantitative", "scale": {"domain": [-2105, 2108], "range": [-470.4, -84], "nice": false, "zero": false}, "axis": {"orient": "bottom", "offset": 9.3, "values": [-2000, -1000, 0, 1000, 2000], "tickSize": -8, "labelPadding": 14, "format": "d", "title": "Restframe Velocity (kms⁻¹)", "titleX": -277.2, "titleY": 33, "titleBaseline": "top", "titleAlign": "center"}},
   "y": {"field": "f", "type": "quantitative", "scale": {"domain": [-25, 25], "range": [364.3, 163.3], "nice": false, "zero": false}, "axis": {"orient": "left", "offset": 470.4, "values": [-20, -10, 0, 10, 20], "tickSize": -8, "labelPadding": 12, "format": "d", "title": null}},
   "detail": {"field": "s"}}},
 {"data": {"values": [{"f": 0}]}, "mark": {"type": "rule", "color": "#000", "strokeDash": [1, 3], "strokeWidth": 1},
  "encoding": {
   "x": {"datum": -2105, "type": "quantitative", "scale": {"domain": [-2105, 2108], "range": [-470.4, -84], "nice": false, "zero": false}, "axis": null},
   "x2": {"datum": 2108},
   "y": {"field": "f", "type": "quantitative", "scale": {"domain": [-25, 25], "range": [364.3, 163.3], "nice": false, "zero": false}, "axis": {"orient": "right", "offset": -439, "values": [-20, -10, 0, 10, 20], "labels": false, "tickSize": -8, "title": null}}}},
 {"data": {"values": [{"v": -300}, {"v": 300}]}, "mark": {"type": "rule", "color": "#666", "strokeDash": [1, 2], "strokeWidth": 1},
  "encoding": {
   "x": {"field": "v", "type": "quantitative", "scale": {"domain": [-2105, 2108], "range": [-470.4, -84], "nice": false, "zero": false}, "axis": {"orient": "top", "offset": -163.3, "values": [-2000, -1000, 0, 1000, 2000], "labels": false, "tickSize": -8, "title": null}},
   "y": {"datum": -25, "type": "quantitative", "scale": {"domain": [-25, 25], "range": [364.3, 163.3], "nice": false, "zero": false}, "axis": null},
   "y2": {"datum": 25}}},
 {"data": {"name": "hist"}, "mark": {"type": "line", "interpolate": "step-after", "color": "#444", "strokeWidth": 1.4},
  "encoding": {
   "x": {"field": "v", "type": "quantitative", "scale": {"domain": [-2105, 2108], "range": [-470.4, -84], "nice": false, "zero": false}, "axis": {"orient": "bottom", "offset": 9.3, "values": [-1800,-1600,-1400,-1200,-800,-600,-400,-200,200,400,600,800,1200,1400,1600,1800], "labels": false, "tickSize": -4, "title": null}},
   "y": {"field": "f", "type": "quantitative", "scale": {"domain": [-25, 25], "range": [364.3, 163.3], "nice": false, "zero": false}, "axis": {"orient": "left", "offset": 470.4, "values": [-15, -5, 5, 15], "labels": false, "tickSize": -4, "title": null}}}},
 {"data": {"values": [{"v": -1846, "f": -16.6, "t": "All Galaxies − Large SM"}]}, "mark": {"type": "text", "align": "left", "baseline": "middle", "fontSize": 16, "font": "DejaVu Serif", "color": "#222"},
  "encoding": {
   "x": {"field": "v", "type": "quantitative", "scale": {"domain": [-2105, 2108], "range": [-470.4, -84], "nice": false, "zero": false}, "axis": {"orient": "top", "offset": -163.3, "values": [-1800,-1600,-1400,-1200,-800,-600,-400,-200,200,400,600,800,1200,1400,1600,1800], "labels": false, "tickSize": -4, "title": null}},
   "y": {"field": "f", "type": "quantitative", "scale": {"domain": [-25, 25], "range": [364.3, 163.3], "nice": false, "zero": false}, "axis": {"orient": "right", "offset": -439, "values": [-15, -5, 5, 15], "labels": false, "tickSize": -4, "title": null}},
   "text": {"field": "t"}}},

 {"data": {"name": "cbar"}, "mark": {"type": "rect"},
  "encoding": {
   "x": {"datum": 0, "type": "quantitative", "scale": {"domain": [0, 1], "range": [442.3, 514.3], "nice": false, "zero": false}, "axis": null},
   "x2": {"datum": 1},
   "y": {"field": "lab", "type": "ordinal", "sort": {"field": "lev", "op": "max", "order": "descending"}, "scale": {"range": [-0.7, 356], "paddingInner": 0, "paddingOuter": 0}, "axis": {"orient": "right", "offset": 159.3, "ticks": false, "domain": false, "labelAlign": "right", "labelPadding": 76, "title": null}},
   "color": {"field": "lev", "type": "quantitative", "scale": {"domain": [-200, -100, 0, 100, 200], "range": ["#0e1030", "#233a8f", "#3f6fb5", "#45b9e8", "#ffffff"], "interpolate": "rgb"}, "legend": null}}},
 {"data": {"values": [{}]}, "mark": {"type": "rect", "fillOpacity": 0, "stroke": "#000", "strokeWidth": 1.5},
  "encoding": {
   "x": {"datum": 0, "type": "quantitative", "scale": {"domain": [0, 1], "range": [442.3, 514.3], "nice": false, "zero": false}, "axis": null},
   "x2": {"datum": 1},
   "y": {"datum": 0, "type": "quantitative", "scale": {"domain": [0, 1], "range": [356, -0.7], "nice": false, "zero": false}, "axis": null},
   "y2": {"datum": 1}}}
],
"resolve": {"scale": {"x": "independent", "y": "independent", "color": "independent"}, "axis": {"x": "independent", "y": "independent"}}
}
